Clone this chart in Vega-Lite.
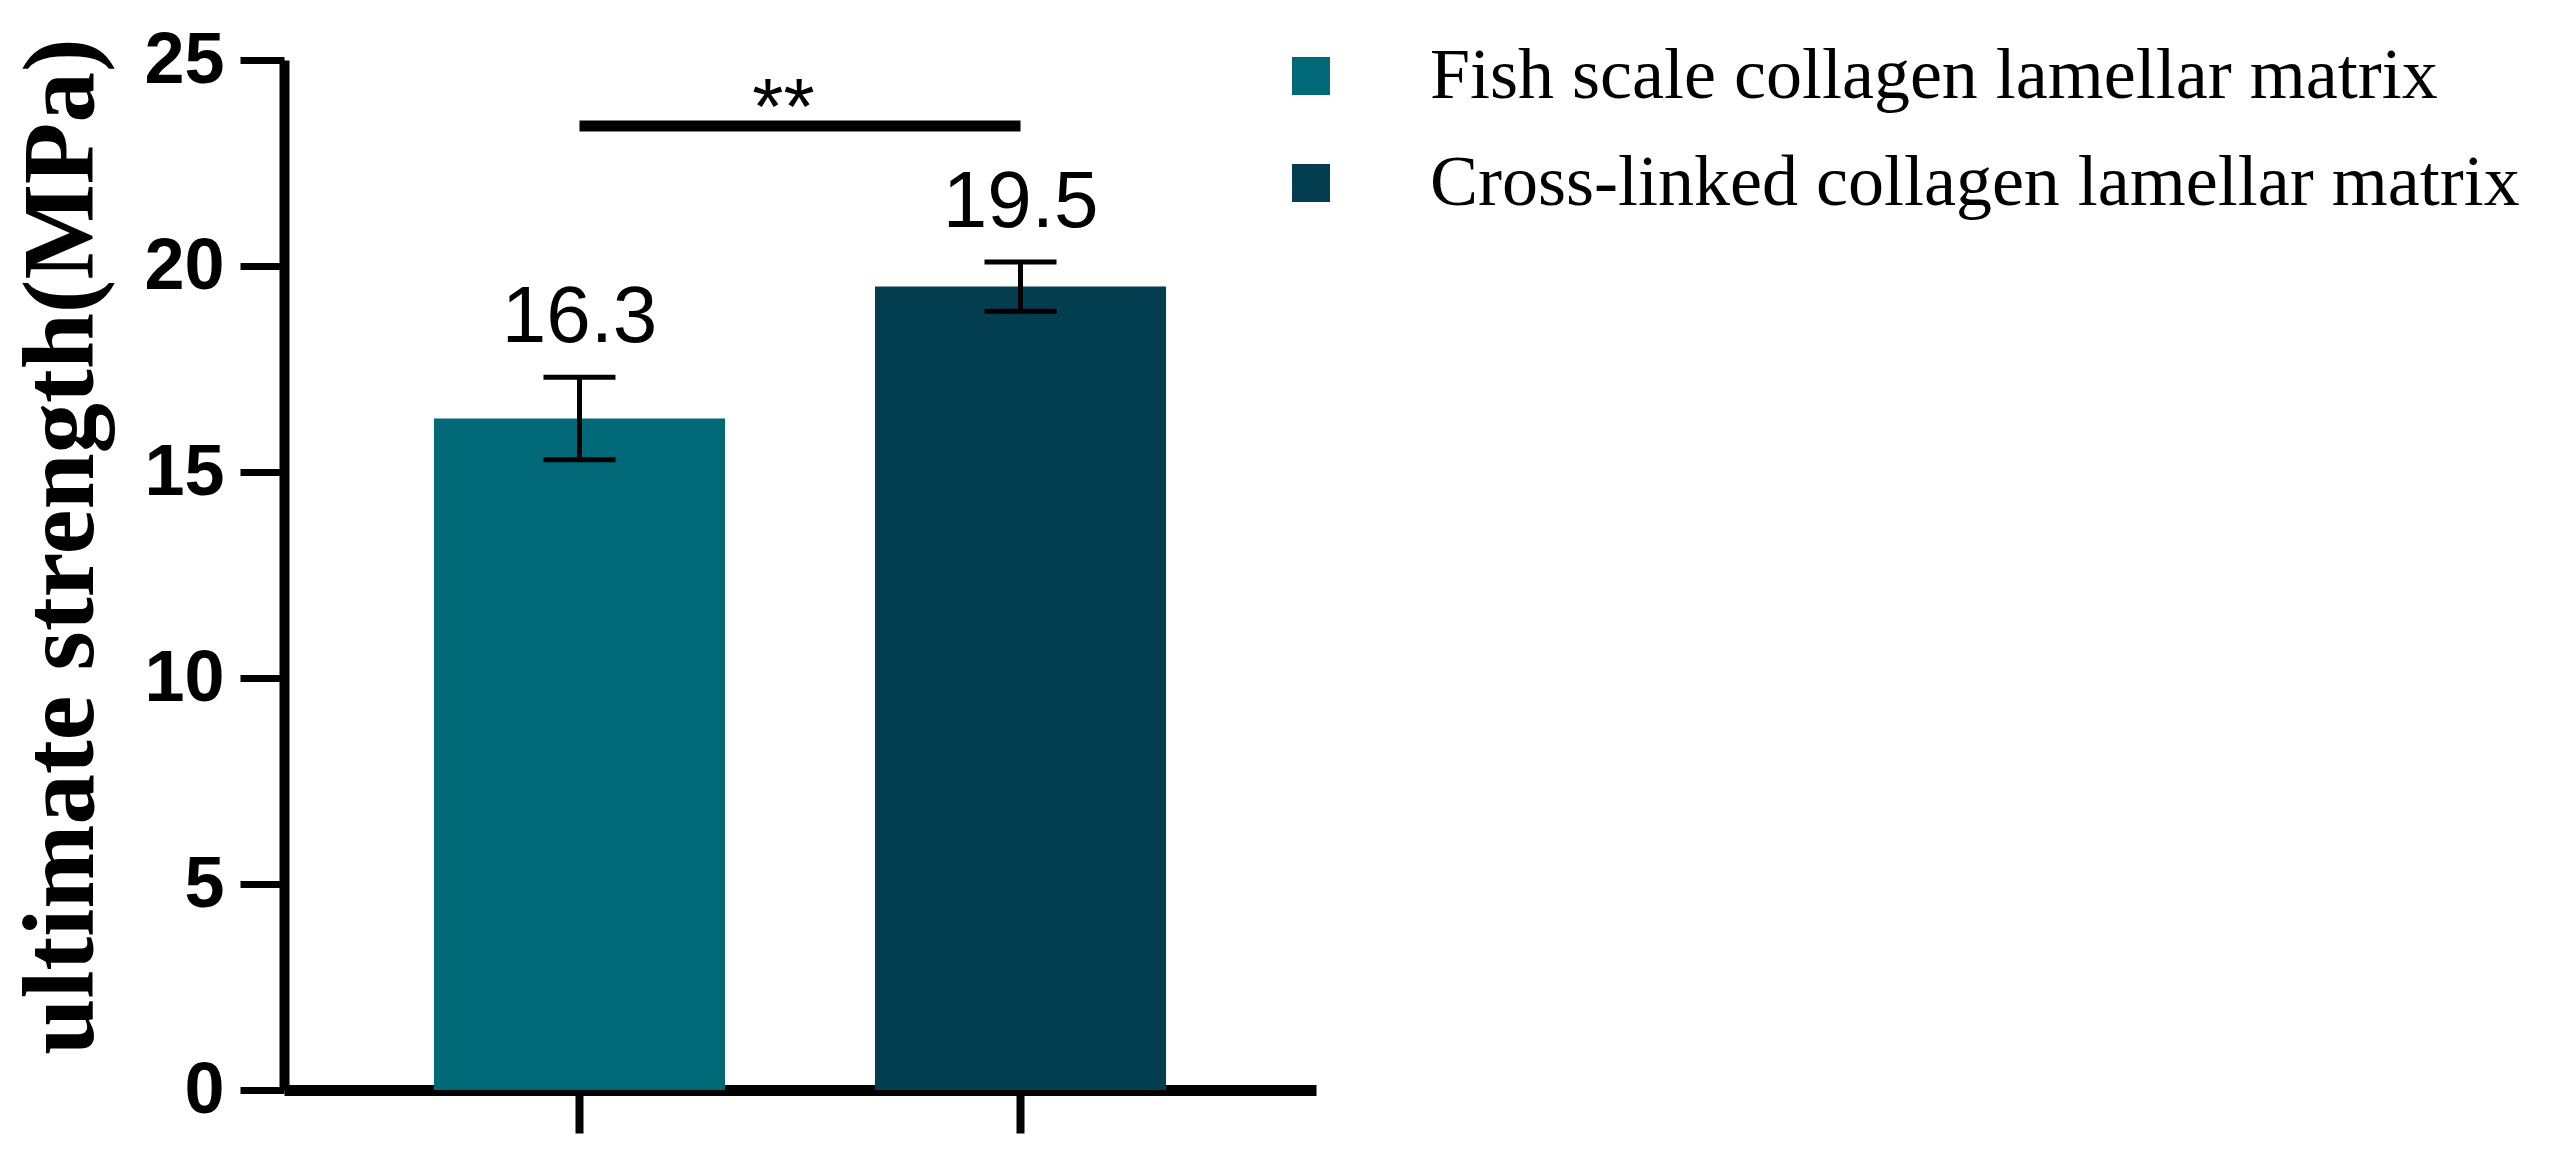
{
  "$schema": "https://vega.github.io/schema/vega-lite/v6.json",
  "autosize": {"type": "none"},
  "padding": {"left": 284, "top": 60, "right": 1233, "bottom": 67},
  "width": 1032,
  "height": 1030,
  "background": "white",
  "config": {"view": {"stroke": null}},
  "data": {
    "values": [
      {"group": "Fish scale collagen lamellar matrix", "mean": 16.3, "lo": 15.3, "hi": 17.3, "label": "16.3"},
      {"group": "Cross-linked collagen lamellar matrix", "mean": 19.5, "lo": 18.9, "hi": 20.1, "label": "19.5"}
    ]
  },
  "encoding": {
    "x": {
      "field": "group",
      "type": "nominal",
      "sort": null,
      "scale": {"paddingInner": 0.34, "paddingOuter": 0.34},
      "axis": {
        "title": null,
        "labels": false,
        "domainColor": "black",
        "domainWidth": 11,
        "tickColor": "black",
        "tickSize": 43,
        "tickWidth": 8,
        "grid": false
      }
    }
  },
  "layer": [
    {
      "mark": {"type": "bar"},
      "encoding": {
        "y": {
          "field": "mean",
          "type": "quantitative",
          "scale": {"domain": [0, 25], "nice": false},
          "axis": {
            "values": [0, 5, 10, 15, 20, 25],
            "title": "ultimate strength(MPa)",
            "titleFont": "Liberation Serif",
            "titleFontWeight": "bold",
            "titleFontSize": 101,
            "titleColor": "black",
            "titleAngle": -90,
            "titleAlign": "center",
            "titleBaseline": "alphabetic",
            "titleX": -192,
            "titleY": 486,
            "titleLimit": 2000,
            "labelFont": "Liberation Sans",
            "labelFontWeight": "bold",
            "labelFontSize": 72,
            "labelColor": "black",
            "labelPadding": 16,
            "tickSize": 44,
            "tickWidth": 7,
            "tickColor": "black",
            "domainColor": "black",
            "domainWidth": 10,
            "grid": false
          }
        },
        "color": {
          "field": "group",
          "type": "nominal",
          "sort": null,
          "scale": {
            "domain": ["Fish scale collagen lamellar matrix", "Cross-linked collagen lamellar matrix"],
            "range": ["#016877", "#033d50"]
          },
          "legend": {
            "title": null,
            "orient": "none",
            "legendX": 991,
            "legendY": -20,
            "direction": "vertical",
            "padding": 0,
            "symbolType": "square",
            "symbolSize": 1444,
            "symbolStrokeWidth": 0,
            "symbolOpacity": 1,
            "labelFont": "Liberation Serif",
            "labelFontSize": 72,
            "labelColor": "black",
            "labelOffset": 83,
            "labelLimit": 0,
            "rowPadding": 35
          }
        }
      }
    },
    {
      "mark": {"type": "rule", "color": "black", "strokeWidth": 5},
      "encoding": {
        "y": {"field": "lo", "type": "quantitative"},
        "y2": {"field": "hi"}
      }
    },
    {
      "mark": {"type": "tick", "color": "black", "opacity": 1, "orient": "horizontal", "size": 72, "thickness": 5},
      "encoding": {"y": {"field": "lo", "type": "quantitative"}}
    },
    {
      "mark": {"type": "tick", "color": "black", "opacity": 1, "orient": "horizontal", "size": 72, "thickness": 5},
      "encoding": {"y": {"field": "hi", "type": "quantitative"}}
    },
    {
      "mark": {"type": "text", "font": "Liberation Sans", "fontSize": 80, "baseline": "alphabetic", "align": "center", "dy": -35, "color": "black"},
      "encoding": {
        "y": {"field": "hi", "type": "quantitative"},
        "text": {"field": "label"}
      }
    },
    {
      "data": {"values": [{"a": "Fish scale collagen lamellar matrix", "b": "Cross-linked collagen lamellar matrix", "v": 23.4, "sig": "**"}]},
      "mark": {"type": "rule", "color": "black", "strokeWidth": 11},
      "encoding": {
        "x": {"field": "a", "type": "nominal"},
        "x2": {"field": "b"},
        "y": {"field": "v", "type": "quantitative"}
      }
    },
    {
      "data": {"values": [{"a": "Fish scale collagen lamellar matrix", "v": 23.4, "sig": "**"}]},
      "mark": {"type": "text", "font": "Liberation Sans", "fontSize": 80, "baseline": "alphabetic", "align": "center", "dx": 204, "dy": 8, "color": "black"},
      "encoding": {
        "x": {"field": "a", "type": "nominal"},
        "y": {"field": "v", "type": "quantitative"},
        "text": {"field": "sig"}
      }
    }
  ]
}
